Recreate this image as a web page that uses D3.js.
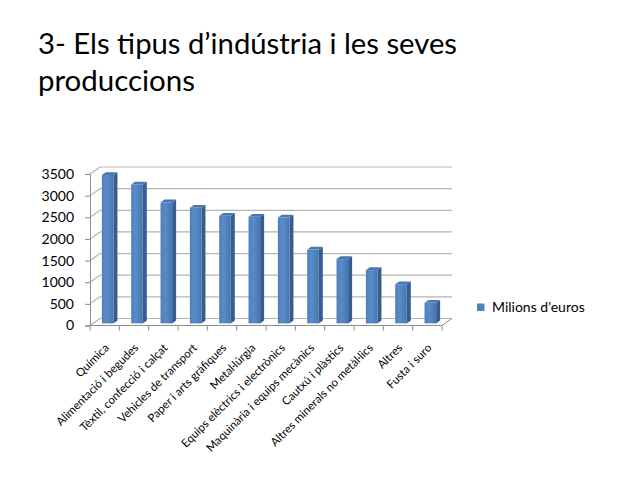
<!DOCTYPE html>
<html>
<head>
<meta charset="utf-8">
<script src="https://cdn.jsdelivr.net/npm/d3@7"></script>
<style>
  html, body { margin: 0; padding: 0; background: #ffffff; }
  svg { display: block; }
  text { font-family: Lato, "Open Sans", "DejaVu Sans", sans-serif; fill: #000; }
</style>
</head>
<body>
<svg id="chart" width="638" height="479"></svg>
<script>
// ---- data ----
const titleLines = ["3- Els tipus d\u2019indústria i les seves", "produccions"];
const categories = [
  "Química",
  "Alimentació i begudes",
  "Tèxtil, confecció i calçat",
  "Vehicles de transport",
  "Paper i arts gràfiques",
  "Metal·lúrgia",
  "Equips elèctrics i electrònics",
  "Maquinària i equips mecànics",
  "Cautxú i plàstics",
  "Altres minerals no metàl·lics",
  "Altres",
  "Fusta i suro"
];
const seriesName = "Milions d'euros";
const values = [3430, 3210, 2795, 2670, 2485, 2465, 2445, 1705, 1485, 1230, 905, 475];
const yTicks = [0, 500, 1000, 1500, 2000, 2500, 3000, 3500];

// ---- layout ----
const svg = d3.select("#chart");
const plot = { left: 90, right: 442, bottom: 325.5, top: 174 };
const depth = { dx: 10, dy: -7 };      // 3-D depth of the floor / walls
const barDepth = [0.3, 0.7];           // bar occupies this fraction of the depth
const gridColor = "#b4b4b4";
const axisColor = "#8c8c8c";

const x = d3.scaleBand().domain(categories).range([plot.left, plot.right]).padding(0);
const y = d3.scaleLinear().domain([0, 3500]).range([plot.bottom, plot.top]);

// defs: gradients for bar faces
const defs = svg.append("defs");
const gFront = defs.append("linearGradient").attr("id", "gFront").attr("x1", "0").attr("x2", "1").attr("y1", "0").attr("y2", "0");
gFront.append("stop").attr("offset", "0%").attr("stop-color", "#4d7fbd");
gFront.append("stop").attr("offset", "40%").attr("stop-color", "#5a8bc8");
gFront.append("stop").attr("offset", "100%").attr("stop-color", "#4676b2");

// ---- title ----
const title = svg.append("g");
const titleTargets = [419, 157];
titleLines.forEach((t, i) => {
  title.append("text")
    .attr("x", 38)
    .attr("y", i === 0 ? 54 : 91)
    .style("font-size", "29px")
    .attr("textLength", titleTargets[i])
    .attr("lengthAdjust", "spacingAndGlyphs")
    .text(t);
});

// ---- walls & gridlines ----
const walls = svg.append("g");
walls.selectAll("line.grid").data(yTicks).join("line")
  .attr("class", "grid")
  .attr("x1", plot.left + depth.dx).attr("x2", plot.right + depth.dx)
  .attr("y1", d => y(d) + depth.dy).attr("y2", d => y(d) + depth.dy)
  .attr("stroke", gridColor).attr("stroke-width", 1.2);
walls.selectAll("line.side").data(yTicks).join("line")
  .attr("class", "side")
  .attr("x1", plot.left).attr("x2", plot.left + depth.dx)
  .attr("y1", d => y(d)).attr("y2", d => y(d) + depth.dy)
  .attr("stroke", gridColor).attr("stroke-width", 1.2);
walls.append("line")
  .attr("x1", plot.left).attr("x2", plot.right)
  .attr("y1", plot.bottom).attr("y2", plot.bottom)
  .attr("stroke", axisColor).attr("stroke-width", 1);
walls.append("line")
  .attr("x1", plot.right).attr("x2", plot.right + depth.dx)
  .attr("y1", plot.bottom).attr("y2", plot.bottom + depth.dy)
  .attr("stroke", axisColor).attr("stroke-width", 1);
const bounds = categories.map(c => x(c)).concat([plot.right]);
walls.selectAll("line.xt").data(bounds).join("line")
  .attr("class", "xt")
  .attr("x1", d => d).attr("x2", d => d)
  .attr("y1", plot.bottom).attr("y2", plot.bottom + 5)
  .attr("stroke", axisColor);

// ---- y axis ----
const yAxis = d3.axisLeft(y).tickValues(yTicks).tickSize(5).tickPadding(11).tickFormat(d3.format("d"));
const ya = svg.append("g").attr("transform", `translate(${plot.left},0)`).call(yAxis);
ya.select(".domain").attr("stroke", axisColor);
ya.selectAll(".tick line").attr("stroke", axisColor);
ya.selectAll(".tick text").style("font-size", "14px").style("font-family", "Lato, 'Open Sans', sans-serif").attr("fill", "#000");

// ---- bars ----
const bw = x.bandwidth() * 0.395;
const f0 = barDepth[0], f1 = barDepth[1];
const bdx = depth.dx * (f1 - f0), bdy = depth.dy * (f1 - f0);
const bars = svg.append("g");
const data = categories.map((c, i) => ({ c, v: values[i] }));
const bar = bars.selectAll("g.bar").data(data).join("g").attr("class", "bar");
const fx = d => x(d.c) + x.bandwidth() / 2 - bw / 2 + depth.dx * f0;
const fyTop = d => y(d.v) + depth.dy * f0;
const fyBot = d => y(0) + depth.dy * f0;
bar.append("path")
  .attr("d", d => {
    const xr = fx(d) + bw, yt = fyTop(d), yb = fyBot(d);
    return `M${xr},${yt} L${xr + bdx},${yt + bdy} L${xr + bdx},${yb + bdy} L${xr},${yb} Z`;
  })
  .attr("fill", "#375d8d");
bar.append("path")
  .attr("d", d => {
    const xl = fx(d), yt = fyTop(d);
    return `M${xl},${yt} L${xl + bdx},${yt + bdy} L${xl + bw + bdx},${yt + bdy} L${xl + bw},${yt} Z`;
  })
  .attr("fill", "#4776b0");
bar.append("rect")
  .attr("x", fx)
  .attr("y", fyTop)
  .attr("width", bw)
  .attr("height", d => fyBot(d) - fyTop(d))
  .attr("fill", "url(#gFront)");

// ---- x labels ----
const xlG = svg.append("g");
// size the label font so that the longest label has the reference length
const probe = xlG.append("text").style("font-size", "10px").text(categories[6]);
const xFont = 10 * 141 / probe.node().getComputedTextLength();
probe.remove();
xlG.selectAll("text.xl").data(categories).join("text")
  .attr("class", "xl")
  .attr("text-anchor", "end")
  .style("font-size", xFont.toFixed(2) + "px")
  .attr("transform", c => `translate(${x(c) + x.bandwidth() / 2 + 5},${plot.bottom + 23}) rotate(-45)`)
  .text(c => c);

// ---- legend ----
const lg = svg.append("g");
lg.append("rect").attr("x", 477).attr("y", 303.5).attr("width", 7.5).attr("height", 7.5).attr("fill", "#4f81bd");
const lt = lg.append("text").attr("x", 492).attr("y", 311.5).style("font-size", "14px").text(seriesName);
</script>
</body>
</html>
